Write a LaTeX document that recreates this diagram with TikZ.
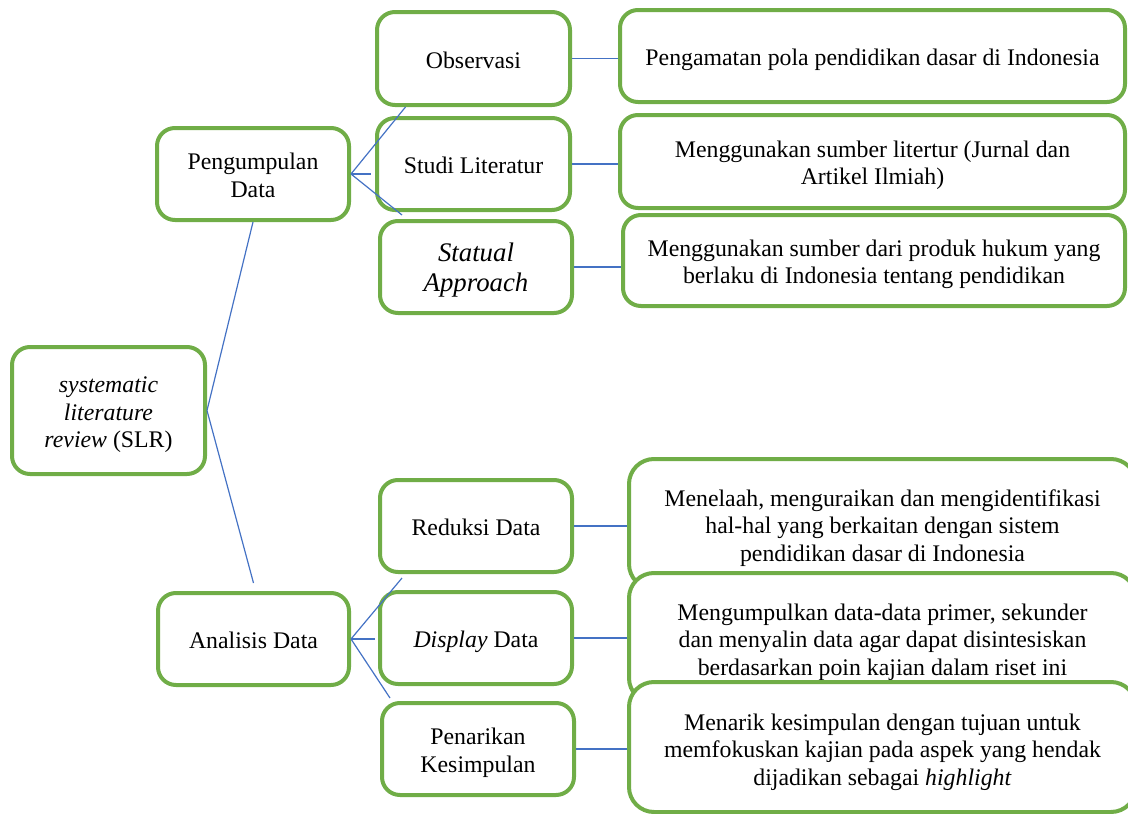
\documentclass[tikz,border=0pt]{standalone}
\usepackage{fontspec}
\setmainfont{Liberation Serif}
\usetikzlibrary{calc}
\definecolor{grn}{HTML}{70AD47}
\definecolor{lnk}{HTML}{4472C4}
\newcommand{\topstrut}{\rule{0pt}{27.25pt}}
\newcommand{\botstrut}{\rule[-8.25pt]{0pt}{8.25pt}}
\begin{document}
\begin{tikzpicture}[x=1pt,y=-1pt,
  txt/.style={align=center, inner sep=0pt, font=\fontsize{23.8}{27.5}\selectfont,
    execute at begin node=\topstrut, execute at end node=\botstrut},
  box/.style={txt, draw=grn, line width=4pt, rounded corners=18pt, fill=white},
  bigbox/.style={box, rounded corners=25pt},
  conn/.style={draw=lnk, line width=1.2pt}]
\useasboundingbox (0,0) rectangle (1128,814);
\clip (0,0) rectangle (1128,814);
% left column
\node[box, minimum width=193, minimum height=127] (slr) at (108.5,410.5) {\topstrut\textit{systematic}\\\textit{literature}\\\textit{review} (SLR)};
\node[box, minimum width=192, minimum height=92] (pd) at (253,174) {\topstrut Pengumpulan\\Data};
\node[box, minimum width=191, minimum height=92] (ad) at (253.5,639) {Analisis Data};
% middle column
\node[box, minimum width=193, minimum height=93] (obs) at (473.5,58.5) {Observasi};
\node[box, minimum width=193, minimum height=92] (stu) at (473.5,164) {Studi Literatur};
\node[box, minimum width=192, minimum height=92, font=\fontsize{26.8}{30.5}\selectfont] (sta) at (476,267) {\topstrut\textit{Statual}\\\textit{Approach}};
\node[box, minimum width=192, minimum height=92] (red) at (476,526) {Reduksi Data};
\node[box, minimum width=192, minimum height=92] (dis) at (476,638) {\textit{Display} Data};
\node[box, minimum width=192, minimum height=92] (pen) at (478,749) {\topstrut Penarikan\\Kesimpulan};
% right column
\node[box, minimum width=505, minimum height=92] (r1) at (872.5,56) {Pengamatan pola pendidikan dasar di Indonesia};
\node[box, minimum width=505, minimum height=93] (r2) at (872.5,161.5) {\topstrut Menggunakan sumber litertur (Jurnal dan\\Artikel Ilmiah)};
\node[box, minimum width=502, minimum height=91] (r3) at (874,260.5) {\topstrut Menggunakan sumber dari produk hukum yang\\berlaku di Indonesia tentang pendidikan};
\node[bigbox, minimum width=507, minimum height=130] (r4) at (882.5,524) {};
\node[txt] (t4) at (882.5,524) {\topstrut Menelaah, menguraikan dan mengidentifikasi\\hal-hal yang berkaitan dengan sistem\\pendidikan dasar di Indonesia};
\node[bigbox, minimum width=507, minimum height=130] (r5) at (882.5,638) {};
\node[txt] (t5) at (882.5,638) {\topstrut Mengumpulkan data-data primer, sekunder\\dan menyalin data agar dapat disintesiskan\\berdasarkan poin kajian dalam riset ini};
\node[bigbox, minimum width=507, minimum height=130] (r6) at (882.5,747) {};
\node[txt] (t6) at (882.5,748) {\topstrut Menarik kesimpulan dengan tujuan untuk\\memfokuskan kajian pada aspek yang hendak\\dijadikan sebagai \textit{highlight}};
% connectors
\draw[conn] (slr.east) -- (pd.south);
\draw[conn] (slr.east) -- ($(ad.north)+(0,-8)$);
\draw[conn] (pd.east) -- ($(obs.south)+(-68,0)$);
\draw[conn] (pd.east) -- ($(pd.east -| stu.west)+(-4,0)$);
\draw[conn] (pd.east) -- ($(sta.north)+(-74,-4)$);
\draw[conn] (ad.east) -- ($(red.south)+(-74,4)$);
\draw[conn] (ad.east) -- ($(ad.east -| dis.west)+(-3,0)$);
\draw[conn] (ad.east) -- ($(pen.north)+(-88,-3)$);
\draw[conn] (obs.east) -- (obs.east -| r1.west);
\draw[conn] (stu.east) -- (stu.east -| r2.west);
\draw[conn] (sta.east) -- (sta.east -| r3.west);
\draw[conn] (red.east) -- (red.east -| r4.west);
\draw[conn] (dis.east) -- (dis.east -| r5.west);
\draw[conn] (pen.east) -- (pen.east -| r6.west);
\end{tikzpicture}
\end{document}
